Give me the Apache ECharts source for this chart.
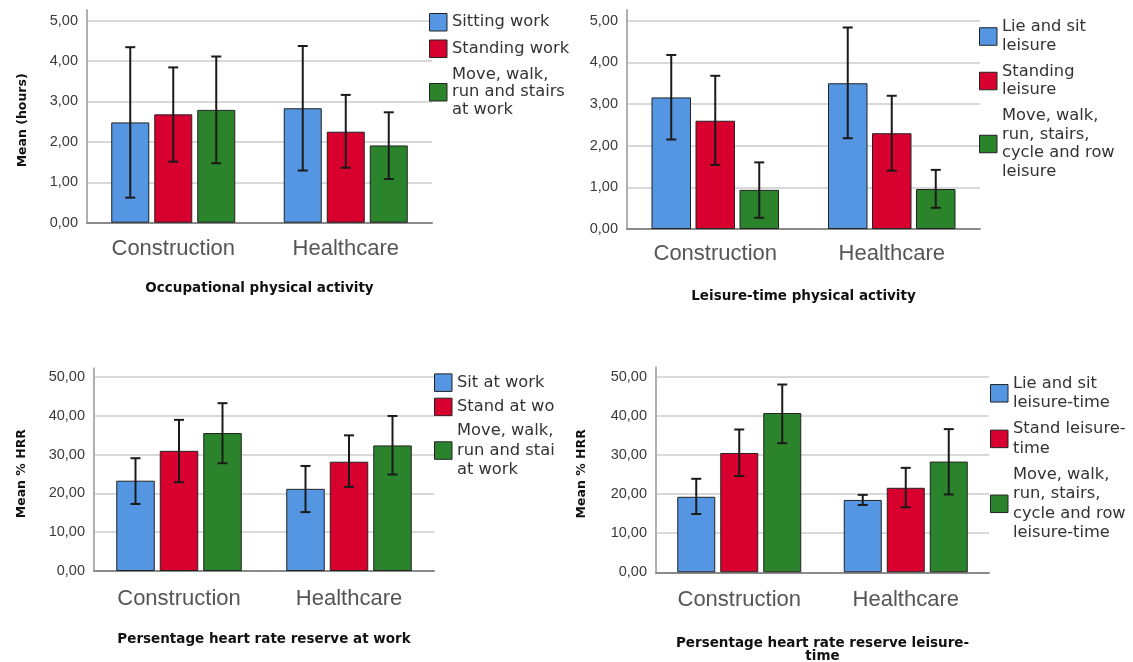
<!DOCTYPE html>
<html><head><meta charset="utf-8">
<script src="https://cdn.jsdelivr.net/npm/echarts@6/dist/echarts.min.js"></script>
<style>html,body{margin:0;padding:0;background:#fff}#c{width:1133px;height:662px}</style>
</head><body><div id="c"></div>
<script>
// ---------------- DATA ----------------
const categories = ['Construction', 'Healthcare'];

// Panel 1: Occupational physical activity (hours)
const p1Names = ['Sitting work', 'Standing work', 'Move, walk,\nrun and stairs\nat work'];
const p1Mean = [[2.48, 2.83], [2.68, 2.25], [2.79, 1.91]];
const p1Low  = [[0.62, 1.29], [1.51, 1.36], [1.47, 1.08]];
const p1High = [[4.34, 4.37], [3.84, 3.16], [4.11, 2.73]];

// Panel 2: Leisure-time physical activity (hours)
const p2Names = ['Lie and sit\nleisure', 'Standing\nleisure', 'Move, walk,\nrun, stairs,\ncycle and row\nleisure'];
const p2Mean = [[3.16, 3.50], [2.60, 2.30], [0.94, 0.96]];
const p2Low  = [[2.15, 2.18], [1.54, 1.40], [0.27, 0.51]];
const p2High = [[4.18, 4.84], [3.68, 3.20], [1.60, 1.42]];

// Panel 3: % HRR at work
const p3Names = ['Sit at work', 'Stand at wo', 'Move, walk,\nrun and stai\nat work'];
const p3Mean = [[23.3, 21.2], [31.0, 28.2], [35.6, 32.4]];
const p3Low  = [[17.3, 15.2], [22.9, 21.7], [27.8, 24.9]];
const p3High = [[29.1, 27.1], [39.0, 35.0], [43.3, 40.0]];

// Panel 4: % HRR leisure-time
const p4Names = ['Lie and sit\nleisure-time', 'Stand leisure-\ntime', 'Move, walk,\nrun, stairs,\ncycle and row\nleisure-time'];
const p4Mean = [[19.3, 18.5], [30.5, 21.6], [40.7, 28.3]];
const p4Low  = [[14.9, 17.2], [24.6, 16.6], [33.0, 19.9]];
const p4High = [[23.9, 19.8], [36.5, 26.7], [48.0, 36.6]];

const xTitles = ['Occupational physical activity', 'Leisure-time physical activity',
                 'Persentage heart rate reserve at work', 'Persentage heart rate reserve leisure-\ntime'];
const yTitles = ['Mean (hours)', '', 'Mean % HRR', 'Mean % HRR'];
const yMax = [5.26, 5.26, 52.3, 52.4];
const yInterval = [1, 1, 10, 10];

// ---------------- LAYOUT / STYLE ----------------
const colors = ['#5596e3', '#d7002e', '#2b842b'];
const panels = [
  {names: p1Names, mean: p1Mean, low: p1Low, high: p1High,
   grid: {left: 87, top: 10, width: 345, height: 212.7}, bw: 38, gap: 5,
   leg: {left: 429, top: 13, gap: 8, lh: 17.5}, xGap: 59, yGap: 58, lm: 15},
  {names: p2Names, mean: p2Mean, low: p2Low, high: p2High,
   grid: {left: 627, top: 10, width: 353, height: 219}, bw: 39.5, gap: 4.5,
   leg: {left: 979, top: 18, gap: 7.5, lh: 18.5}, xGap: 61, yGap: 58, lm: 14},
  {names: p3Names, mean: p3Mean, low: p3Low, high: p3High,
   grid: {left: 94, top: 368.3, width: 340, height: 202.7}, bw: 38.5, gap: 5,
   leg: {left: 434, top: 373, gap: 5, lh: 19.3}, xGap: 62, yGap: 66, lm: 17},
  {names: p4Names, mean: p4Mean, low: p4Low, high: p4High,
   grid: {left: 656, top: 367.3, width: 333, height: 205}, bw: 38, gap: 5,
   leg: {left: 990, top: 374, gap: 7, lh: 19.3}, xGap: 64, yGap: 68, lm: 17}
];

const fmt = v => v.toFixed(2).replace('.', ',');

const grids = [], xAxes = [], yAxes = [], legends = [], series = [];
panels.forEach((p, gi) => {
  grids.push(Object.assign({containLabel: false, outerBoundsMode: 'none'}, p.grid));
  xAxes.push({
    type: 'category', gridIndex: gi, data: categories,
    axisLine: {lineStyle: {color: '#8a8a8a', width: 2}},
    axisTick: {show: false},
    axisLabel: {fontFamily: 'Liberation Sans', fontSize: 22, color: '#555', margin: p.lm},
    name: xTitles[gi], nameLocation: 'middle', nameGap: p.xGap,
    nameTextStyle: {fontFamily: 'DejaVu Sans', fontWeight: 'bold', fontSize: 13.5, color: '#111', lineHeight: 13.5, align: 'center'}
  });
  yAxes.push({
    type: 'value', gridIndex: gi, min: 0, max: yMax[gi], interval: yInterval[gi],
    axisLine: {show: true, lineStyle: {color: '#b0b0b0', width: 2}},
    axisTick: {show: false},
    splitLine: {show: true, showMaxLine: false, lineStyle: {color: '#d9d9d9', width: 2}},
    axisLabel: {fontFamily: 'Liberation Sans', fontSize: 14.5, color: '#3a3a3a', margin: 9, showMaxLabel: false,
      formatter: v => (Math.abs(v / yInterval[gi] - Math.round(v / yInterval[gi])) < 1e-6 ? fmt(v) : '')},
    name: yTitles[gi], nameLocation: 'middle', nameGap: p.yGap,
    nameTextStyle: {fontFamily: 'DejaVu Sans', fontWeight: 'bold', fontSize: 12.5, color: '#111', padding: [0, 8, 0, 0]}
  });
  legends.push({
    data: p.names, orient: 'vertical', left: p.leg.left, top: p.leg.top, itemGap: p.leg.gap,
    itemWidth: 17.5, itemHeight: 17.5, icon: 'rect', selectedMode: false, padding: 0,
    itemStyle: {borderColor: '#222', borderWidth: 1},
    textStyle: {fontFamily: 'DejaVu Sans', fontSize: 16.3, color: '#333', lineHeight: p.leg.lh}
  });
  p.names.forEach((nm, k) => {
    series.push({
      type: 'bar', name: nm, xAxisIndex: gi, yAxisIndex: gi, data: p.mean[k],
      barWidth: p.bw, barGap: (p.gap / p.bw * 100) + '%',
      itemStyle: {color: colors[k], borderColor: '#222', borderWidth: 1},
      emphasis: {disabled: true}, z: 2
    });
  });
  p.names.forEach((nm, k) => {
    const dx = (k - 1) * (p.bw + p.gap);
    series.push({
      type: 'custom', xAxisIndex: gi, yAxisIndex: gi, z: 5, silent: true,
      data: categories.map((c, i) => [i, p.low[k][i], p.high[k][i]]),
      encode: {x: 0, y: [1, 2]},
      renderItem: (params, api) => {
        const lo = api.coord([api.value(0), api.value(1)]);
        const hi = api.coord([api.value(0), api.value(2)]);
        const x = lo[0] + dx, cw = 5;
        const st = {stroke: '#1a1a1a', lineWidth: 2};
        return {type: 'group', children: [
          {type: 'line', shape: {x1: x, y1: hi[1], x2: x, y2: lo[1]}, style: st},
          {type: 'line', shape: {x1: x - cw, y1: hi[1], x2: x + cw, y2: hi[1]}, style: st},
          {type: 'line', shape: {x1: x - cw, y1: lo[1], x2: x + cw, y2: lo[1]}, style: st}
        ]};
      }
    });
  });
});

const chart = echarts.init(document.getElementById('c'), null, {renderer: 'canvas'});
chart.setOption({
  animation: false,
  backgroundColor: '#fff',
  textStyle: {fontFamily: 'DejaVu Sans'},
  grid: grids, xAxis: xAxes, yAxis: yAxes, legend: legends, series: series
});
</script></body></html>
